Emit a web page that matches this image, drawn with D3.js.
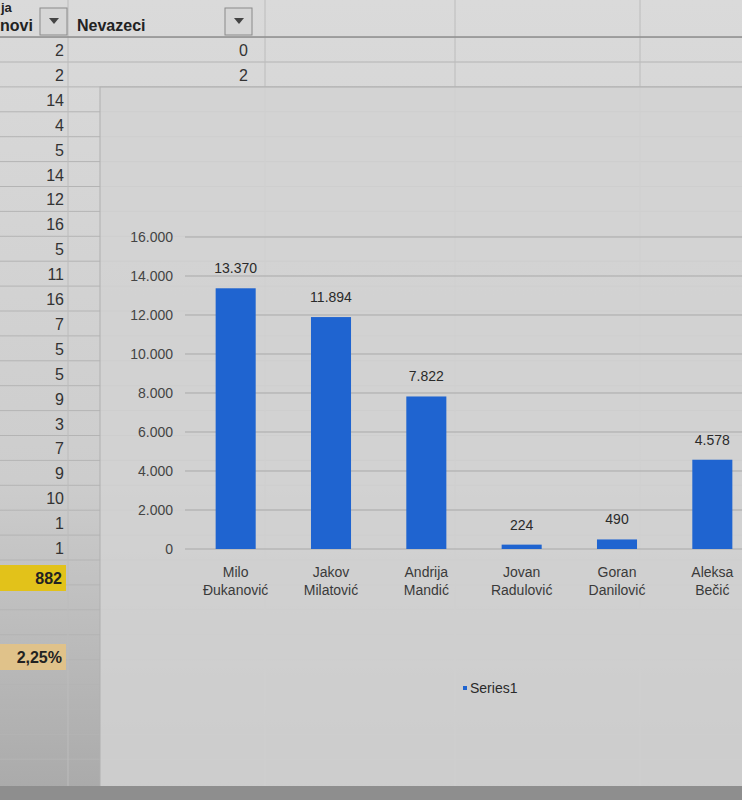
<!DOCTYPE html>
<html>
<head>
<meta charset="utf-8">
<script src="https://cdn.jsdelivr.net/npm/d3@7"></script>
<style>
  body { margin: 0; background: #cfcfcf; }
  svg { display: block; font-family: "Liberation Sans", Arial, sans-serif; }
</style>
</head>
<body>
<div id="chart"></div>
<script>
// podaci
let candidates = ['Milo Đukanović', 'Jakov Milatović', 'Andrija Mandić', 'Jovan Radulović', 'Goran Danilović', 'Aleksa Bečić'];
let votes = [13370, 11894, 7822, 224, 490, 4578];
let yTicks = [0, 2000, 4000, 6000, 8000, 10000, 12000, 14000, 16000];
let colValues = ['2', '2', '14', '4', '5', '14', '12', '16', '5', '11', '16', '7', '5', '5', '9', '3', '7', '9', '10', '1', '1'];
let nevazeci = ['0', '2'];
let total = '882';
let percent = '2,25%';

let width = 742;
let height = 800;

let svg = d3.select('#chart').append('svg').attr('width', width).attr('height', height);

// pozadina (fotografija ekrana, tamnije dolje)
let defs = svg.append('defs');
let grad = defs.append('linearGradient').attr('id', 'bg').attr('x1', 0).attr('x2', 0).attr('y1', 0).attr('y2', 1);
grad.append('stop').attr('offset', '0%').attr('stop-color', '#dadada');
grad.append('stop').attr('offset', '60%').attr('stop-color', '#cdcdcd');
grad.append('stop').attr('offset', '100%').attr('stop-color', '#a9a9a9');
svg.append('rect').attr('width', width).attr('height', height).attr('fill', 'url(#bg)');

// mreza celija
let rowY = d3.scaleLinear().domain([0, 20]).range([50, 548]);
let cellLines = d3.range(-1, 29);
svg.selectAll('line.row')
    .data(cellLines)
    .enter().append('line')
            .attr('class', 'row')
            .attr('x1', 0).attr('x2', width)
            .attr('y1', function (d) { return rowY(d) + 12; })
            .attr('y2', function (d) { return rowY(d) + 12; })
            .attr('stroke', '#b4b4b4').attr('stroke-width', 1);
svg.selectAll('line.col')
    .data([68, 265, 455, 640])
    .enter().append('line')
            .attr('class', 'col')
            .attr('x1', function (d) { return d; }).attr('x2', function (d) { return d; })
            .attr('y1', 0).attr('y2', height)
            .attr('stroke', '#bcbcbc').attr('stroke-width', 1);

// zaglavlje tabele
svg.append('text').attr('x', 1).attr('y', 12).attr('font-size', 13).attr('font-weight', 'bold').attr('fill', '#222').text('ja');
svg.append('text').attr('x', 0).attr('y', 31).attr('font-size', 16).attr('font-weight', 'bold').attr('fill', '#222').text('novi');
svg.append('text').attr('x', 77).attr('y', 31).attr('font-size', 16).attr('font-weight', 'bold').attr('fill', '#222').text('Nevazeci');
[[40, 8], [225, 8]].forEach(function (p) {
  let g = svg.append('g').attr('transform', 'translate(' + p[0] + ',' + p[1] + ')');
  g.append('rect').attr('width', 27).attr('height', 27).attr('fill', '#d6d6d6').attr('stroke', '#8a8a8a');
  g.append('path').attr('d', 'M9,10 L19,10 L14,16 Z').attr('fill', '#444');
});
svg.append('line').attr('x1', 0).attr('x2', width).attr('y1', 37).attr('y2', 37).attr('stroke', '#777');

// obojene celije
svg.append('rect').attr('x', 0).attr('y', 565).attr('width', 66).attr('height', 26).attr('fill', '#e2c21a');
svg.append('rect').attr('x', 0).attr('y', 644).attr('width', 66).attr('height', 26).attr('fill', '#e0c28a');

svg.selectAll('text.cell')
    .data(colValues)
    .enter().append('text')
            .attr('class', 'cell')
            .attr('x', 64)
            .attr('y', function (d, i) { return rowY(i) + 6; })
            .attr('text-anchor', 'end')
            .attr('font-size', 16)
            .attr('fill', '#333')
            .text(function (d) { return d; });
svg.selectAll('text.nev')
    .data(nevazeci)
    .enter().append('text')
            .attr('class', 'nev')
            .attr('x', 248)
            .attr('y', function (d, i) { return rowY(i) + 6; })
            .attr('text-anchor', 'end')
            .attr('font-size', 16)
            .attr('fill', '#333')
            .text(function (d) { return d; });
svg.append('text').attr('x', 62).attr('y', 584).attr('text-anchor', 'end').attr('font-size', 16).attr('font-weight', 'bold').attr('fill', '#222').text(total);
svg.append('text').attr('x', 62).attr('y', 663).attr('text-anchor', 'end').attr('font-size', 16).attr('font-weight', 'bold').attr('fill', '#222').text(percent);

// podrucje grafikona
svg.append('rect').attr('x', 100).attr('y', 87).attr('width', 650).attr('height', 700)
   .attr('fill', '#d2d2d2').attr('fill-opacity', 0.85).attr('stroke', '#b0b0b0');

let y = d3.scaleLinear().domain([0, 16000]).range([549, 237]);
let x = d3.scaleBand().domain(candidates).range([188, 760]).paddingInner(0.58).paddingOuter(0.29);

let fmt = function (d) { return d3.format(',')(d).replace(/,/g, '.'); };

let grp = svg.append('g').attr('class', 'grp');

// horizontalne linije
grp.selectAll('line.grid')
   .data(yTicks)
   .enter().append('line')
           .attr('class', 'grid')
           .attr('x1', 185).attr('x2', width)
           .attr('y1', function (d) { return y(d); })
           .attr('y2', function (d) { return y(d); })
           .attr('stroke', '#a9a9a9').attr('stroke-width', 1);

let yAxis = d3.axisLeft(y).tickValues(yTicks).tickSize(0).tickPadding(0).tickFormat(fmt);
let yg = grp.append('g').attr('class', 'axis y').attr('transform', 'translate(173,0)').call(yAxis);
yg.select('.domain').remove();
yg.selectAll('text').attr('font-size', 14).attr('fill', '#444').attr('font-family', '"Liberation Sans", Arial, sans-serif');

// stubici
grp.selectAll('rect.bar')
   .data(votes)
   .enter().append('rect')
           .attr('class', 'bar')
           .attr('x', function (d, i) { return x(candidates[i]); })
           .attr('y', function (d) { return y(d); })
           .attr('width', x.bandwidth())
           .attr('height', function (d) { return y(0) - y(d); })
           .attr('fill', '#1f64d0');

// oznake vrijednosti
grp.selectAll('text.val')
   .data(votes)
   .enter().append('text')
           .attr('class', 'val')
           .attr('x', function (d, i) { return x(candidates[i]) + x.bandwidth() / 2; })
           .attr('y', function (d) { return y(d) - 15; })
           .attr('text-anchor', 'middle')
           .attr('font-size', 14)
           .attr('fill', '#2a2a2a')
           .text(fmt);

// imena kandidata
let labels = grp.selectAll('text.name')
   .data(candidates)
   .enter().append('text')
           .attr('class', 'name')
           .attr('x', function (d) { return x(d) + x.bandwidth() / 2; })
           .attr('y', 577)
           .attr('text-anchor', 'middle')
           .attr('font-size', 14)
           .attr('fill', '#3a3a3a');
labels.append('tspan').attr('x', function (d) { return x(d) + x.bandwidth() / 2; }).attr('dy', 0)
      .text(function (d) { return d.split(' ')[0]; });
labels.append('tspan').attr('x', function (d) { return x(d) + x.bandwidth() / 2; }).attr('dy', 18)
      .text(function (d) { return d.split(' ')[1]; });

// legenda
svg.append('rect').attr('x', 463).attr('y', 686).attr('width', 4).attr('height', 4).attr('fill', '#1f64d0');
svg.append('text').attr('x', 470).attr('y', 693).attr('font-size', 14).attr('fill', '#2a2a2a').text('Series1');

// tamna ivica dolje
svg.append('rect').attr('x', 0).attr('y', 786).attr('width', width).attr('height', 14).attr('fill', '#8e8e8e');
</script>
</body>
</html>
